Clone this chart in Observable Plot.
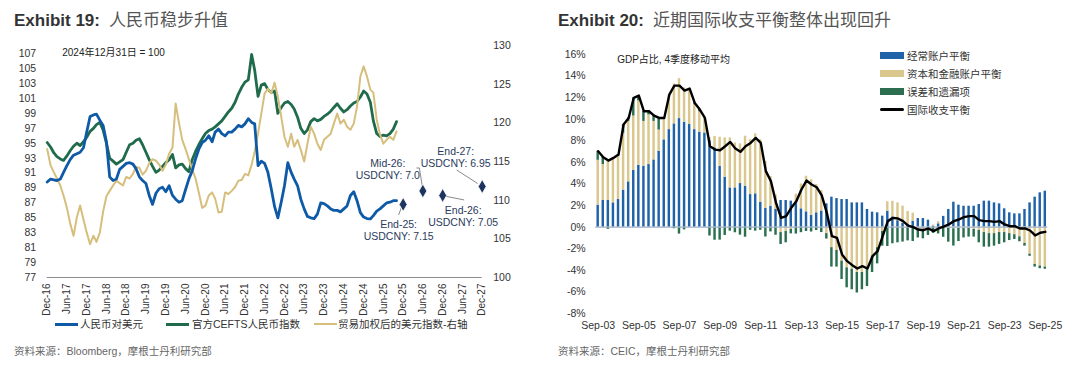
<!DOCTYPE html>
<html><head><meta charset="utf-8">
<script src="https://cdn.jsdelivr.net/npm/d3@7"></script>
<script src="https://cdn.jsdelivr.net/npm/@observablehq/plot@0.6"></script>
<style>
body{margin:0;background:#fff;width:1080px;height:386px;position:relative;overflow:hidden;font-family:"Liberation Sans Narrow","Liberation Sans","Noto Sans CJK SC",sans-serif;color:#333;}
.abs{position:absolute;white-space:nowrap;}
.title{font-family:"Noto Sans CJK SC",sans-serif;font-size:17px;color:#555;line-height:20px;}
.title b{font-family:"Liberation Sans Narrow","Liberation Sans",sans-serif;font-size:17px;color:#333;font-weight:bold;margin-right:9px;}
.lg{font-size:10.5px;line-height:12px;color:#333;}
.src{font-size:10.5px;color:#666;line-height:12px;}
.sw{position:absolute;}
</style></head><body>
<div class="abs title" style="left:14px;top:9px"><b>Exhibit 19:</b>人民币稳步升值</div>
<div class="abs title" style="left:558px;top:9px"><b>Exhibit 20:</b>近期国际收支平衡整体出现回升</div>
<div id="c19" class="abs" style="left:0;top:40px"></div>
<div id="c20" class="abs" style="left:540px;top:40px"></div>
<div id="lg19"></div>
<div id="lg20"></div>
<div class="abs src" style="left:14px;top:345px">资料来源：Bloomberg，摩根士丹利研究部</div>
<div class="abs src" style="left:558px;top:345px">资料来源：CEIC，摩根士丹利研究部</div>
<script>
// ---------------- Exhibit 19 data (monthly, from Dec-16) ----------------
const usdcnyIndex = [89.8,90.2,90.1,90.0,90.2,91.1,92.0,92.8,93.4,93.6, 93.8,94.4,96.5,98.6,98.8,98.9,98.1,97.4,95.2,90.5,
 90.0,90.2,91.5,91.9,92.3,92.4,92.2,91.6,90.5,90.0, 89.6,88.0,86.8,88.3,88.9,89.1,88.5,89.3,88.0,87.5,
 87.1,87.3,88.8,90.2,91.3,92.9,94.2,95.1,95.4,96.0, 95.2,96.5,96.9,96.3,96.0,96.5,96.5,96.9,97.4,97.2,
 97.6,98.3,97.8,97.6,92.0, 92.6,92.3,91.1,88.9,86.5,85.0,87.1,89.3,92.4,91.1, 90.2,89.3,87.5,86.2,85.2,85.0,84.9,85.5,87.0,86.9,
 86.6,86.2,86.0,86.0,85.8,86.2,86.6,88.0,88.5,87.3, 85.7,85.1,84.9,84.85,85.3,85.9,86.2,86.6,87.0,87.1, 87.3,87.3];
const cfetsIndex = [95.1,94.5,93.7,93.2,92.9,92.7,93.3,94.0,94.6,95.0, 94.7,95.2,95.8,96.6,97.0,97.5,97.8,96.8,95.0,93.0,
 92.6,92.2,92.5,92.8,93.8,94.8,95.0,95.4,95.6,94.8, 93.8,92.8,91.9,91.1,91.4,91.9,92.4,92.8,93.5,91.7,
 92.1,92.2,91.6,91.2,92.8,93.9,94.8,95.6,96.3,96.7, 96.9,97.2,97.6,98.0,98.6,99.2,99.7,100.5,101.6,102.5,
 103.2,103.5,106.9,104.8,101.3, 102.8,103.0,102.2,101.8,102.0, 99.0,99.8,100.4,100.6,100.2, 99.6,98.5,97.0,96.3,96.8,
 97.9,98.3,98.0,98.2,98.6, 98.9,99.3,99.8,100.3,99.7, 99.2,99.5,100.0,100.4,100.6, 101.2,102.0,101.6,100.5,98.0,
 96.3,95.9,96.1,96.0,96.3, 96.9,97.9];
const tradeWeightedUsd = [116.6,114.5,113.6,112.8,111.9,110.6,109.0,107.0,105.4,107.8, 109.3,107.5,105.8,104.3,105.4,104.6,105.8,108.5,110.5,111.2,
 111.9,112.5,112.2,111.9,113.0,112.8,113.4,114.3,114.2,113.3, 113.8,114.8,115.3,115.1,114.6,113.8,114.6,116.0,116.8,122.5,
 120.0,117.8,116.6,115.3,114.0,112.8,111.0,109.0,109.3,110.6, 111.0,110.2,108.4,108.5,111.0,110.8,111.2,111.7,112.5,112.6,
 113.4,113.2,114.6,116.3,118.6,121.2,123.8,124.4,123.8,125.2, 123.4,120.8,118.2,116.9,118.6,116.9,117.8,116.5,115.0,117.3,
 119.5,118.6,117.3,116.5,117.8,118.2,118.6,119.9,121.2,119.9, 120.4,119.5,119.1,119.9,122.1,126.0,127.3,126.0,124.3,123.9,
 120.4,118.5,117.3,117.8,118.2,117.8,118.9];
const fcLabels = ["End-25","Mid-26","End-26","End-27"];
const fcUsdcny = ["7.15","7.0","7.05","6.95"];
const fcMonths = ["2025-12","2026-06","2026-12","2027-12"];
const fcIndex = [86.8,88.6,88.0,89.2];
const leftTicks = [77,79,81,83,85,87,89,91,93,95,97,99,101,103,105,107];
const rightTicks = [100,105,110,115,120,125,130];
const names19 = ["人民币对美元","官方CEFTS人民币指数","贸易加权后的美元指数-右轴"];
const colors19 = ["#0f5aa6","#1f6b4b","#d6bf7c"];

// ---------------- Exhibit 20 data (quarterly, Sep-03 .. Sep-25, % of GDP) ----------------
const currentAccount = [2.04,2.47,2.47,2.25,2.56,3.43,4.2,5.25,5.74,5.65, 5.80,6.23,7.04,8.09,9.04,9.57,10.06,9.72,9.51,9.04,
 8.80,8.73,8.02,7.35,5.62,4.63,3.64,3.64,4.04,3.80, 3.02,3.09,2.31,1.73,1.94,1.64,2.47,2.47,2.41,2.25,
 1.70,1.42,1.08,1.33,1.5, 2.16,2.78,2.65,2.56,2.56, 2.25,2.25,2.25,1.64,1.39, 1.33,1.02,1.48,0.95,0.6,
 0.35,0.25,0.55,0.8,0.8, 0.65,0.1,0.31,1.0,1.64, 2.31,2.04,1.94,1.94,1.94, 2.10,2.41,2.41,2.25,2.16,
 1.70,1.33,1.23,1.23,1.64, 2.25,2.78,3.18,3.33];
const capitalFinancial = [4.16,3.33,3.64,4.17,4.0,5.27,5.6,5.05,5.96,4.15, 4.6,3.57,1.96,2.0,3.24,3.7,3.7,3.18,3.24,2.36,
 1.9,1.39,0.3,1.05,2.71,3.64,4.63,4.16,3.68,4.63, 5.08,5.55,5.79,4.37,2.76,1.36,-0.5,-0.4,-0.2,0.8,
 2.3,3.3,3.32,2.62,1.9, -0.6,-1.9,-2.16,-3.15,-3.77, -3.9,-4.2,-4.2,-3.9,-2.7, -1.9,-0.4,0.87,1.45,1.65,
 1.6,1.2,0.75,-0.2,-0.2, -0.1,0.1,0.2,-0.1,-0.1, -0.15,-0.1,-0.1,-0.1,-0.2, -0.3,-0.5,-0.6,-0.6,-0.5,
 -0.5,-0.6,-0.7,-0.9,-1.5, -2.5,-3.45,-3.6,-3.7];
const errorsOmissions = [0.84,0.68,-0.2,0.0,0.17,0.8,0.32,1.68,0.5,0.94, 0.34,0.54,1.12,0.03,0.0,-0.15,-0.64,-0.25,0.09,0.11,
 0.2,0.0,-0.82,-1.21,-1.2,-0.77,-0.37,-0.52,-0.74,-0.93, -0.29,-0.37,-0.29,-0.91,-0.44,-0.75,-1.11,-1.05,-0.42,-0.64,
 -0.51,-0.4,-0.45,-0.31,-0.5, -0.5,-1.8,-1.54,-1.7,-1.85, -1.9,-1.9,-1.6,-1.6,-1.5, -1.5,-1.36,-1.79,-1.54,-1.45,
 -1.38,-1.27,-1.33,-0.8,-0.88, -0.67,-0.57,-0.63,-0.84,-1.29, -1.6,-1.23,-0.9,-0.82,-0.72, -1.15,-1.35,-1.25,-1.16,-1.1,
 -0.95,-0.64,-0.44,-0.45,-0.26, -0.2,-0.25,-0.25,-0.2];
const bopBalance = [7.04,6.48,6.17,6.42,6.73,9.51,10.12,11.98,12.19,10.74, 10.74,10.34,10.12,10.12,12.28,13.12,13.12,12.65,12.84,11.51,
 10.90,10.12,7.50,7.19,7.13,7.50,7.90,7.28,6.98,7.50, 7.81,8.27,7.81,5.19,4.26,2.25,0.86,1.02,1.79,2.41,
 3.49,4.32,3.95,3.7,2.95, 1.33,-0.83,-0.99,-2.53,-3.15, -3.52,-3.83,-3.61,-3.83,-2.69, -2.22,-0.83,0.56,0.86,0.80,
 0.56,0.15,0.0,-0.22,-0.28, -0.12,-0.37,-0.12,0.06,0.25, 0.56,0.71,0.93,1.02,1.02, 0.65,0.56,0.56,0.49,0.56,
 0.25,0.09,0.09,-0.12,-0.12, -0.31,-0.77,-0.52,-0.43];
const names20 = ["经常账户平衡","资本和金融账户平衡","误差和遗漏项","国际收支平衡"];
const colors20 = ["#1f62a8","#dac78e","#2b6f50","#000000"];
const pctTicks = [-8,-6,-4,-2,0,2,4,6,8,10,12,14,16];

// ---------------- helpers ----------------
const FONT = "'Liberation Sans Narrow','Liberation Sans','Noto Sans CJK SC',sans-serif";
const monthDate = i => new Date(2016, 11 + i, 1);
const toLeft = r => 77 + (r - 100) * (31.11 / 30);
const fromLeft = v => 100 + (v - 77) * (30 / 31.11);

// ---------------- Exhibit 19 ----------------
const series19 = [];
usdcnyIndex.forEach((v,i)=>series19.push({date:monthDate(i), v, s:names19[0]}));
cfetsIndex.forEach((v,i)=>series19.push({date:monthDate(i), v, s:names19[1]}));
tradeWeightedUsd.forEach((v,i)=>series19.push({date:monthDate(i), v:toLeft(v), s:names19[2]}));
const fc = fcLabels.map((l,i)=>({label:l, text:`${l}:\nUSDCNY: ${fcUsdcny[i]}`, date:new Date(+fcMonths[i].slice(0,4), +fcMonths[i].slice(5)-1, 1), v:fcIndex[i]}));
// label placement (px offsets from the diamond)
const fcTextOff = [[-4.5,26],[-35,-21.5],[20.5,21],[-26.5,-29.5]];
const fcLeader = [[[-1,3],[-4,11]],[[-6,-22.5],[-3,-22.5],[0,-4]],[[2,1],[22,5]],[[-25,-16],[-4,-2.5]]];

function leaderMark(index, scales) {
  const g = d3.create("svg:g").attr("fill","none").attr("stroke","#6b6b6b").attr("stroke-width",0.8);
  fc.forEach((d,i)=>{
    const x0 = scales.x(d.date), y0 = scales.y(d.v);
    g.append("path").attr("d", d3.line()(fcLeader[i].map(([dx,dy])=>[x0+dx,y0+dy])));
  });
  return g.node();
}

const xTicks19 = d3.range(23).map(i=>new Date(2016, 11 + 6*i, 1));
const p19 = Plot.plot({
  width: 530, height: 280,
  marginLeft: 46.7, marginRight: 48.3, marginTop: 5, marginBottom: 43,
  style: {fontFamily: FONT, fontSize: "10.5px", color: "#333", background: "white"},
  x: {type: "time", domain: [new Date(2016,11,1), new Date(2027,11,1)], label: null},
  y: {domain: [77, 108.11], label: null},
  color: {domain: names19, range: colors19},
  marks: [
    Plot.ruleY([77], {stroke: "#8c8c8c", strokeWidth: 1}),
    Plot.line(series19.filter(d=>d.s===names19[1]), {x:"date", y:"v", stroke: colors19[1], strokeWidth: 2.8}),
    Plot.line(series19.filter(d=>d.s===names19[2]), {x:"date", y:"v", stroke: colors19[2], strokeWidth: 2}),
    Plot.line(series19.filter(d=>d.s===names19[0]), {x:"date", y:"v", stroke: colors19[0], strokeWidth: 2.8}),
    leaderMark,
    Plot.dot(fc, {x:"date", y:"v", symbol:"diamond", r: 4.2, fill:"#1d3461", stroke:"white", strokeWidth:0.8}),
    ...fc.map((d,i)=>Plot.text([d], {x:"date", y:"v", text:"text", dx: fcTextOff[i][0], dy: fcTextOff[i][1], lineAnchor:"middle", lineHeight: 1.15, fill:"#2a3b5c", fontSize: 10.5})),
    Plot.text(["2024年12月31日 = 100"], {frameAnchor:"top-left", dx: 15, dy: 7, lineAnchor:"middle", textAnchor:"start", fill:"#222", fontSize: 10}),
    Plot.axisY(leftTicks, {anchor:"left", tickSize: 0, tickPadding: 11, fontSize: 10.5, tickFormat: d=>d, label: null}),
    Plot.axisY(rightTicks.map(toLeft), {anchor:"right", tickSize: 0, tickPadding: 11, fontSize: 10.5, tickFormat: d=>Math.round(fromLeft(d)), label: null}),
    Plot.axisX(xTicks19, {anchor:"bottom", tickSize: 0, tickPadding: 6, tickRotate: -90, tickFormat: d3.timeFormat("%b-%y"), fontSize: 10, label: null})
  ]
});
document.getElementById("c19").append(p19);

// legend 19
(function(){
  const L = document.getElementById("lg19");
  const items = [[55,80,3],[166,192,3],[314,338,2]];
  names19.forEach((n,i)=>{
    const [sx,tx,h] = items[i];
    L.insertAdjacentHTML("beforeend", `<div class="sw" style="left:${sx}px;top:${324-h/2}px;width:23px;height:${h}px;background:${colors19[i]}"></div><div class="abs lg" style="left:${tx}px;top:318px">${n}</div>`);
  });
})();

// ---------------- Exhibit 20 ----------------
const quarters = d3.range(currentAccount.length).map(i=>d3.timeFormat("%b-%y")(new Date(2003, 8 + 3*i, 1)));
const bars20 = [];
[currentAccount, capitalFinancial, errorsOmissions].forEach((arr,k)=>arr.forEach((v,i)=>bars20.push({q:quarters[i], v, s:names20[k]})));
const line20 = bopBalance.map((v,i)=>({q:quarters[i], v}));

const p20 = Plot.plot({
  width: 540, height: 298,
  marginLeft: 55.2, marginRight: 32.7, marginTop: 14, marginBottom: 25,
  style: {fontFamily: FONT, fontSize: "10.5px", color: "#333", background: "white"},
  x: {type:"band", domain: quarters, paddingInner: 0.52, paddingOuter: 0.25, round: false, label: null},
  y: {domain: [-8, 16], label: null},
  color: {domain: names20.slice(0,3), range: colors20.slice(0,3)},
  marks: [
    Plot.barY(bars20, {x:"q", y:"v", fill:"s", order: names20.slice(0,3)}),
    Plot.ruleY([0], {stroke:"#9fb0c8", strokeWidth: 1.2}),
    Plot.line(line20, {x:"q", y:"v", stroke:"#000", strokeWidth: 2.4, curve:"linear"}),
    Plot.text(["GDP占比, 4季度移动平均"], {frameAnchor:"top-left", dx: 21.5, dy: 5, lineAnchor:"middle", textAnchor:"start", fill:"#222", fontSize: 10}),
    Plot.axisY(pctTicks, {anchor:"left", tickSize: 0, tickPadding: 10, fontSize: 10.5, tickFormat: d=>d+"%", label: null}),
    Plot.axisX(quarters.filter((d,i)=>i%8===0), {anchor:"bottom", tickSize: 0, tickPadding: 8, fontSize: 10.5, label: null})
  ]
});
document.getElementById("c20").append(p20);

// legend 20
(function(){
  const L = document.getElementById("lg20");
  const rows = [55.7,73.7,91.7,109.7];
  names20.forEach((n,i)=>{
    const h = i===3 ? 3 : 7;
    L.insertAdjacentHTML("beforeend", `<div class="sw" style="left:880px;top:${rows[i]-h/2}px;width:24px;height:${h}px;background:${colors20[i]};${i===3?'border-radius:2px;':''}"></div><div class="abs lg" style="left:907px;top:${rows[i]-6}px">${n}</div>`);
  });
})();
</script>
</body></html>
